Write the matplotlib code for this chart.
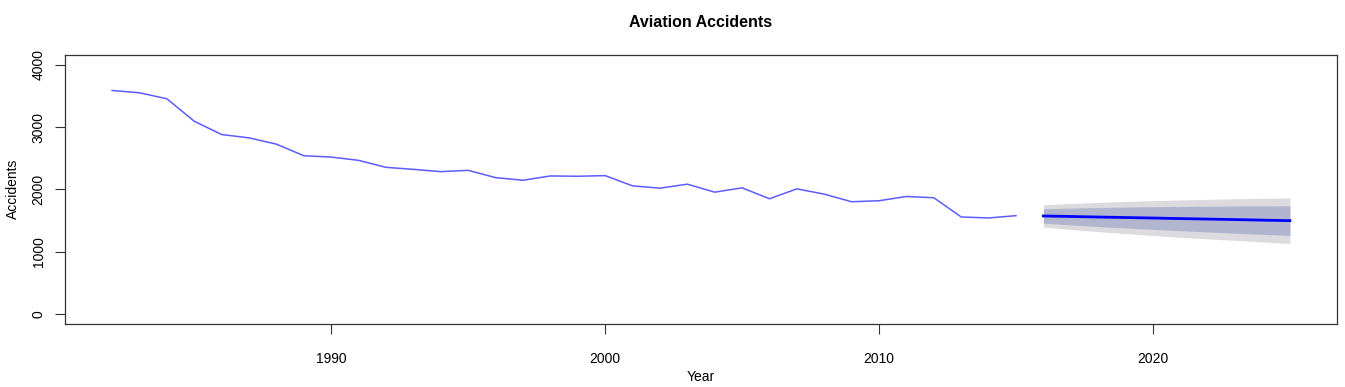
import matplotlib
matplotlib.use("Agg")
import matplotlib.pyplot as plt

plt.rcParams['font.family'] = ['Liberation Sans', 'DejaVu Sans']

# observed series
years = list(range(1982, 2016))
accidents = [3586, 3549, 3453, 3092, 2879, 2826, 2725, 2539, 2518, 2465,
             2353, 2321, 2284, 2305, 2188, 2146, 2215, 2210, 2220, 2056,
             2019, 2083, 1955, 2024, 1849, 2008, 1923, 1801, 1817, 1886,
             1865, 1557, 1541, 1578]

# forecast
fc_years = list(range(2016, 2026))
fc_mean = [1573, 1565, 1556, 1548, 1540, 1531, 1523, 1515, 1506, 1498]
lo80 = [1458, 1430, 1404, 1380, 1358, 1336, 1316, 1297, 1278, 1260]
hi80 = [1688, 1700, 1708, 1716, 1722, 1726, 1730, 1733, 1734, 1736]
lo95 = [1395, 1357, 1322, 1290, 1261, 1232, 1206, 1181, 1156, 1133]
hi95 = [1751, 1773, 1790, 1806, 1819, 1830, 1840, 1849, 1856, 1863]

xticks = [1990, 2000, 2010, 2020]
yticks = [0, 1000, 2000, 3000, 4000]

fig = plt.figure(figsize=(13.45, 3.87), dpi=100)
ax = fig.add_axes([65 / 1345, 1 - 324 / 387, (1337 - 65) / 1345, (324 - 54.7) / 387])

ax.fill_between(fc_years, lo95, hi95, color='#dbdbdf', linewidth=0)
ax.fill_between(fc_years, lo80, hi80, color='#b1b5ce', linewidth=0)
ax.plot(years, accidents, color='#5c5cff', linewidth=1.1)
ax.plot(fc_years, fc_mean, color='#0000ff', linewidth=2)

ax.set_xlim(1980.28, 2026.72)
ax.set_ylim(-160, 4160)
ax.set_xticks(xticks)
ax.set_yticks(yticks)
ax.set_yticklabels([str(v) for v in yticks], rotation=90, va='center')
ax.tick_params(direction='out', length=7, width=0.8, colors='#333333',
               labelsize=10, labelcolor='black')
ax.tick_params(axis='x', pad=13)
ax.tick_params(axis='y', pad=7)
for s in ax.spines.values():
    s.set_color('#333333')
    s.set_linewidth(0.9)

# axis labels placed directly, like R's margin text
fig.text(701 / 1345, 1 - 377 / 387, 'Year', fontsize=10, ha='center', va='center')
fig.text(13 / 1345, 1 - 189 / 387, 'Accidents', fontsize=10, rotation=90,
         ha='center', va='center')
ax.set_title('Aviation Accidents', fontsize=11.5, fontweight='bold', pad=20)

fig.savefig('out.png', dpi=100)
